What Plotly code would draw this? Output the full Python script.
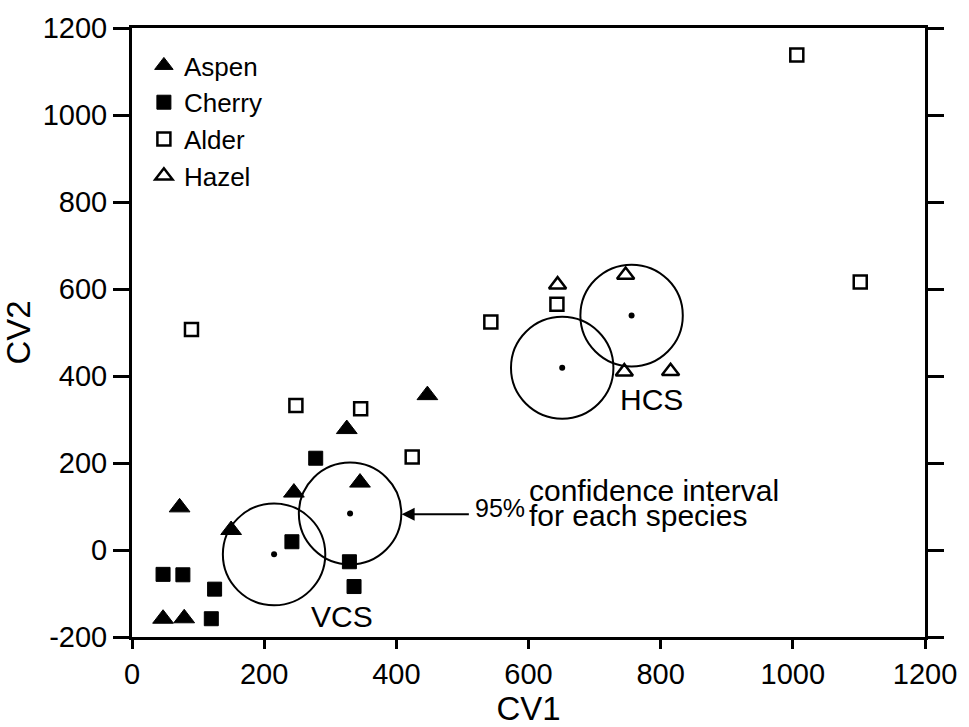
import plotly.graph_objects as go

# ---- data ----
aspen_x = [72, 150, 245, 325, 345, 447, 47, 79]
aspen_y = [98, 46, 132, 278, 155, 356, -158, -157]

cherry_x = [47, 77, 125, 120, 242, 278, 329, 336]
cherry_y = [-56, -57, -90, -158, 19, 211, -27, -84]

alder_x = [248, 346, 424, 90, 543, 643, 1102, 1006]
alder_y = [332, 325, 214, 507, 524, 565, 616, 1138]

hazel_x = [644, 747, 745, 815]
hazel_y = [610, 632, 410, 411]

# 95% confidence circles (centres) and their half-widths in data units
ci_x = [215, 330, 651, 756]
ci_y = [-10, 84, 419, 539]
ci_rx = 77.5
ci_ry = 117

x_ticks = [0, 200, 400, 600, 800, 1000, 1200]
y_ticks = [-200, 0, 200, 400, 600, 800, 1000, 1200]

FONT = "Liberation Sans, Arial, Helvetica, sans-serif"

fig = go.Figure()

fig.add_trace(go.Scatter(x=aspen_x, y=aspen_y, mode="markers", name="Aspen",
                         marker=dict(symbol="triangle-up", size=18, color="black",
                                     line=dict(color="black", width=1))))
fig.add_trace(go.Scatter(x=cherry_x, y=cherry_y, mode="markers", name="Cherry",
                         marker=dict(symbol="square", size=14, color="black",
                                     line=dict(color="black", width=1))))
fig.add_trace(go.Scatter(x=alder_x, y=alder_y, mode="markers", name="Alder",
                         marker=dict(symbol="square-open", size=13, color="black",
                                     line=dict(color="black", width=2.5))))
fig.add_trace(go.Scatter(x=hazel_x, y=hazel_y, mode="markers", name="Hazel",
                         marker=dict(symbol="triangle-up-open", size=15, color="black",
                                     line=dict(color="black", width=2.5))))
fig.add_trace(go.Scatter(x=ci_x, y=ci_y, mode="markers", showlegend=False,
                         marker=dict(symbol="circle", size=6, color="black")))

for cx, cy in zip(ci_x, ci_y):
    fig.add_shape(type="circle", xref="x", yref="y",
                  x0=cx - ci_rx, x1=cx + ci_rx, y0=cy - ci_ry, y1=cy + ci_ry,
                  line=dict(color="black", width=2))

# labels
fig.add_annotation(x=318, y=-152, text="VCS", showarrow=False, xref="x", yref="y",
                   font=dict(size=30, color="black", family=FONT))
fig.add_annotation(x=786, y=345, text="HCS", showarrow=False, xref="x", yref="y",
                   font=dict(size=30, color="black", family=FONT))
# arrow
fig.add_annotation(x=408, y=82, ax=512, ay=82, xref="x", yref="y", axref="x", ayref="y",
                   text="", showarrow=True, arrowhead=2, arrowsize=1.3, arrowwidth=2,
                   arrowcolor="black")
fig.add_annotation(x=516, y=96, text="95%", showarrow=False, xref="x", yref="y",
                   xanchor="left", yanchor="middle",
                   font=dict(size=25, color="black", family=FONT))
fig.add_annotation(x=598, y=136, text="confidence interval", showarrow=False,
                   xref="x", yref="y", xanchor="left", yanchor="middle",
                   font=dict(size=30, color="black", family=FONT))
fig.add_annotation(x=598, y=80, text="for each species", showarrow=False,
                   xref="x", yref="y", xanchor="left", yanchor="middle",
                   font=dict(size=30, color="black", family=FONT))

axis_common = dict(showgrid=False, zeroline=False, showline=True, linecolor="black",
                   linewidth=3, ticks="outside", tickwidth=3, tickcolor="black",
                   tickfont=dict(size=29, color="black", family=FONT))

fig.update_xaxes(range=[0, 1200], tickvals=x_ticks, ticktext=[str(v) for v in x_ticks],
                 mirror=True, ticklen=9,
                 title=dict(text="CV1", font=dict(size=33, color="black", family=FONT),
                            standoff=2),
                 **axis_common)
fig.update_yaxes(range=[-200, 1200], tickvals=y_ticks, ticktext=[str(v) for v in y_ticks],
                 mirror="ticks", ticklen=16,
                 title=dict(text="CV2", font=dict(size=33, color="black", family=FONT),
                            standoff=8),
                 **axis_common)

fig.update_layout(
    width=969, height=727,
    margin=dict(l=131, r=41, t=22, b=87),
    paper_bgcolor="white", plot_bgcolor="white",
    font=dict(family=FONT, color="black"),
    showlegend=True,
    legend=dict(x=0.015, y=0.977, xanchor="left", yanchor="top",
                bgcolor="rgba(0,0,0,0)", borderwidth=0,
                font=dict(size=26, color="black", family=FONT),
                itemwidth=30, tracegroupgap=0),
)

fig.write_html("out.html")
